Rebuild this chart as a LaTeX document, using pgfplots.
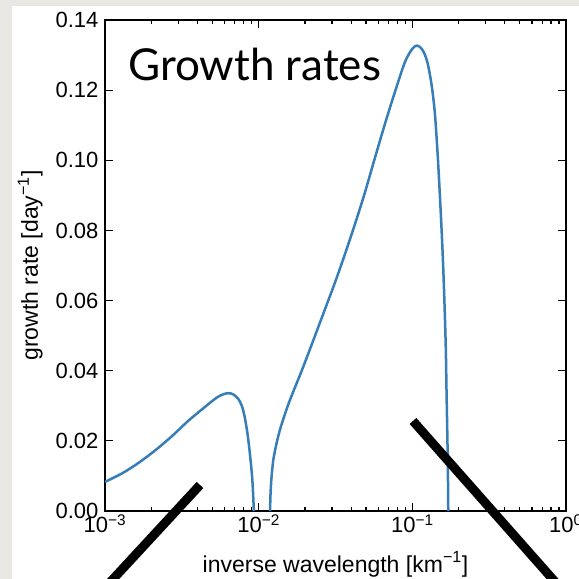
\documentclass[border=0pt]{standalone}
\usepackage{fontspec}
\setmainfont{Liberation Sans}
\newfontfamily\titlefont{Lato}
\usepackage{pgfplots}
\pgfplotsset{compat=1.18}
\definecolor{bg}{RGB}{233,231,225}
\definecolor{curve}{RGB}{55,126,184}
\begin{document}
\begin{tikzpicture}
\useasboundingbox (0,0) rectangle (579pt,-579pt);
\fill[bg] (0,0) rectangle (579pt,-579pt);
\fill[white] (12pt,-6pt) rectangle (579pt,-579pt);
\begin{axis}[
  at={(105pt,-511pt)}, anchor=south west,
  scale only axis, width=461pt, height=491pt,
  xmode=log, xmin=1e-3, xmax=1,
  ymin=0, ymax=0.14,
  xtick={0.001,0.01,0.1,1},
  xticklabels={10\textsuperscript{−3},10\textsuperscript{−2},10\textsuperscript{−1},10\textsuperscript{0}},
  ytick={0,0.02,0.04,0.06,0.08,0.10,0.12,0.14},
  yticklabels={0.00,0.02,0.04,0.06,0.08,0.10,0.12,0.14},
  ticklabel style={font=\fontsize{22}{26}\selectfont},
  yticklabel style={xshift=-3pt},
  label style={font=\fontsize{23}{27}\selectfont},
  xlabel={inverse wavelength [km\textsuperscript{−1}]},
  ylabel={growth rate [day\textsuperscript{−1}]},
  xlabel style={at={(rel axis cs:0.5,0)}, anchor=base, yshift=-61pt},
  ylabel style={at={(rel axis cs:0,0.5)}, anchor=base, yshift=67pt},
  major tick length=8pt, minor tick length=4pt,
  tick style={black, line width=1.2pt},
  axis line style={line width=2pt},
]
\addplot[curve, line width=2.5pt, smooth, tension=0.5] coordinates {
(0.00100,0.0083) (0.00130,0.0108) (0.00165,0.0137) (0.00211,0.0172)
(0.00272,0.0213) (0.00348,0.0257) (0.00448,0.0297) (0.00500,0.0314)
(0.00546,0.0326) (0.00590,0.0333) (0.00634,0.0336) (0.00680,0.0333)
(0.00736,0.0320) (0.00780,0.0298) (0.00814,0.0265) (0.00845,0.0222)
(0.00870,0.0177) (0.00891,0.0134) (0.00910,0.0088) (0.00922,0.0041)
(0.00931,0.0)
};
\addplot[curve, line width=2.5pt, smooth, tension=0.5] coordinates {
(0.01186,0.0) (0.01195,0.0050) (0.01212,0.0095) (0.01245,0.0145)
(0.01300,0.0188) (0.01377,0.0232) (0.0148,0.0275) (0.0160,0.0317)
(0.0195,0.0411) (0.0251,0.0538) (0.0322,0.0665) (0.0393,0.0775)
(0.0479,0.0892) (0.0572,0.1008) (0.0670,0.1110) (0.0771,0.1195)
(0.0895,0.1280) (0.1000,0.1318) (0.1076,0.1327) (0.1150,0.1318)
(0.1210,0.1300) (0.1268,0.1270) (0.1340,0.1210) (0.1402,0.1134)
(0.1460,0.1020) (0.1513,0.0896) (0.1570,0.0750) (0.1614,0.0611)
(0.1650,0.0470) (0.1672,0.0326) (0.1700,0.0150) (0.1714,0.0)
};
\end{axis}
\node[anchor=base west, inner sep=0pt, font=\titlefont\fontsize{44}{50}\selectfont] at (128pt,-80pt) {Growth rates};
\draw[line width=9pt] (200pt,-485pt) -- (90pt,-604pt);
\draw[line width=9pt] (413pt,-421pt) -- (572pt,-601pt);
\end{tikzpicture}
\end{document}
